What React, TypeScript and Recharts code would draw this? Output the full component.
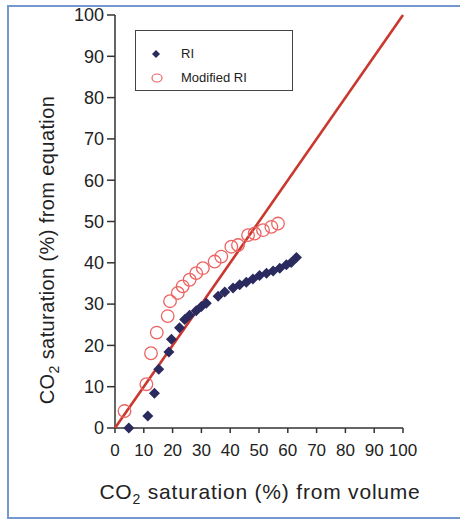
import React from 'react'
import { ScatterChart, Scatter, XAxis, YAxis, Label } from 'recharts'

// values (x = % from volume, y = % from equation)
const riX = [4.8, 11.4, 13.7, 15.2, 18.7, 19.6, 22.4, 24.2, 25.9, 28.2, 30, 31.7, 35.8, 38.1, 41, 43.3, 45.6, 47.9, 50.2, 52.6, 54.9, 57.2, 59.5, 61.2, 63]
const riY = [0, 2.9, 8.4, 14.2, 18.4, 21.5, 24.3, 26.3, 27.3, 28.4, 29.4, 30.2, 31.9, 32.9, 33.9, 34.7, 35.3, 36.1, 36.9, 37.5, 38, 38.7, 39.5, 40.1, 41.3]

const modX = [3.3, 10.9, 12.5, 14.5, 18.3, 19.1, 21.8, 23.5, 25.9, 28.2, 30.5, 34.6, 36.9, 40.4, 42.7, 46.2, 48.5, 51.4, 54.3, 56.6]
const modY = [4.1, 10.6, 18.1, 23.1, 27.1, 30.7, 32.7, 34.3, 35.9, 37.5, 38.7, 40.3, 41.5, 43.9, 44.3, 46.7, 47.1, 47.9, 48.7, 49.5]

// line of identity
const lineX = [0, 100]
const lineY = [0, 100]

const xTicks = [0, 10, 20, 30, 40, 50, 60, 70, 80, 90, 100]
const yTicks = [0, 10, 20, 30, 40, 50, 60, 70, 80, 90, 100]

const seriesNames = ['RI', 'Modified RI']

const riData = riX.map((x, i) => ({ x, y: riY[i] }))
const modData = modX.map((x, i) => ({ x, y: modY[i] }))
const lineData = lineX.map((x, i) => ({ x, y: lineY[i] }))

const NAVY = '#2b2a5f'
const PINK = '#ec6462'
const RED = '#c9372e'
const FONT = 'Liberation Sans, Arial, sans-serif'

const Diamond = ({ cx, cy }: any) => {
  if (cx == null || cy == null) return null
  const s = 5.5
  return <polygon points={`${cx},${cy - s} ${cx + s},${cy} ${cx},${cy + s} ${cx - s},${cy}`} fill={NAVY} />
}

const Ring = ({ cx, cy }: any) => {
  if (cx == null || cy == null) return null
  return <circle cx={cx} cy={cy} r={6.3} fill="none" stroke={PINK} strokeWidth={1.3} />
}

const NoDot = () => null

const LegendBox = () => (
  <div
    style={{
      position: 'absolute',
      left: 135,
      top: 30,
      width: 156,
      height: 59,
      border: '1px solid #444',
      background: '#fff',
      fontFamily: FONT,
      fontSize: 13,
      color: '#222',
    }}
  >
    <svg width={20} height={59} style={{ position: 'absolute', left: 10, top: 0 }}>
      <polygon points="10,19 14,23 10,27 6,23" fill={NAVY} />
      <ellipse cx={11} cy={47} rx={5} ry={4} fill="none" stroke={PINK} strokeWidth={1.2} />
    </svg>
    <span style={{ position: 'absolute', left: 45, top: 15 }}>{seriesNames[0]}</span>
    <span style={{ position: 'absolute', left: 45, top: 39 }}>{seriesNames[1]}</span>
  </div>
)

const XTitle = () => (
  <text x={260} y={499} textAnchor="middle" fontFamily={FONT} fontSize={21} fill="#222" letterSpacing={0.8}>
    CO<tspan dy={5} fontSize={14}>2</tspan>
    <tspan dy={-5}> saturation (%) from volume</tspan>
  </text>
)

const YTitle = () => (
  <text
    x={0}
    y={0}
    transform="translate(54, 250) rotate(-90)"
    textAnchor="middle"
    fontFamily={FONT}
    fontSize={20}
    fill="#222"
    letterSpacing={0.4}
  >
    CO<tspan dy={5} fontSize={14}>2</tspan>
    <tspan dy={-5}> saturation (%) from equation</tspan>
  </text>
)

export default function App() {
  return (
    <div style={{ position: 'absolute', left: 0, top: 0, width: 460, height: 519, background: '#fff' }}>
      <div
        style={{
          position: 'absolute',
          left: 7,
          top: 5,
          width: 460,
          height: 510,
          borderLeft: '2px solid #7597cf',
          borderTop: '2px solid #7597cf',
          borderBottom: '2px solid #7597cf',
        }}
      />
      <div style={{ position: 'absolute', left: 0, top: 0 }}>
        <ScatterChart width={460} height={519} margin={{ top: 15, right: 57, bottom: 0, left: 0 }}>
          <XAxis
            type="number"
            dataKey="x"
            domain={[0, 100]}
            ticks={xTicks}
            interval={0}
            height={91}
            tickSize={5}
            tickMargin={11}
            axisLine={{ stroke: '#333', strokeWidth: 1.5 }}
            tickLine={{ stroke: '#333', strokeWidth: 1.5 }}
            tick={{ fill: '#222', fontSize: 17, fontFamily: FONT }}
          >
            <Label content={<XTitle />} />
          </XAxis>
          <YAxis
            type="number"
            dataKey="y"
            domain={[0, 100]}
            ticks={yTicks}
            interval={0}
            width={115}
            tickSize={8}
            tickMargin={3}
            axisLine={{ stroke: '#333', strokeWidth: 1.5 }}
            tickLine={{ stroke: '#333', strokeWidth: 1.5 }}
            tick={{ fill: '#222', fontSize: 18, fontFamily: FONT }}
          >
            <Label content={<YTitle />} />
          </YAxis>
          <Scatter
            name="identity"
            data={lineData}
            line={{ stroke: RED, strokeWidth: 2.6 }}
            shape={<NoDot />}
            isAnimationActive={false}
          />
          <Scatter name={seriesNames[0]} data={riData} shape={<Diamond />} isAnimationActive={false} />
          <Scatter name={seriesNames[1]} data={modData} shape={<Ring />} isAnimationActive={false} />
        </ScatterChart>
      </div>
      <LegendBox />
    </div>
  )
}
